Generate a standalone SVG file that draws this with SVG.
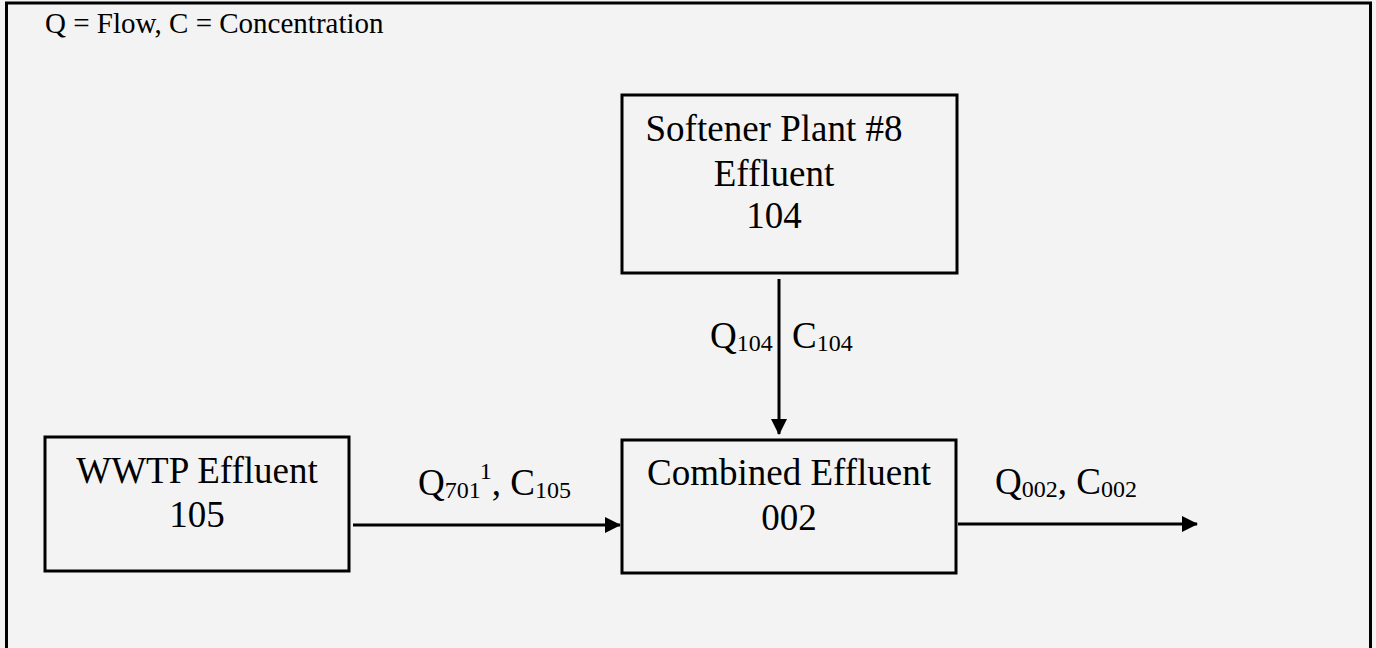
<svg xmlns="http://www.w3.org/2000/svg" width="1376" height="648" viewBox="0 0 1376 648">
<style>
.t{font-family:"Liberation Serif","Times New Roman",serif;fill:#000;font-size:37px}
.s{font-size:24px}
.box{fill:none;stroke:#000;stroke-width:3}
.ln{stroke:#000;stroke-width:3;fill:none}
</style>
<defs>
<marker id="ah" markerUnits="userSpaceOnUse" markerWidth="16" markerHeight="16" refX="15" refY="8" orient="auto">
<path d="M0,0 L16,8 L0,16 Z" fill="#000"/>
</marker>
</defs>
<rect x="0" y="0" width="1376" height="648" fill="#f3f3f3"/>
<rect x="6.5" y="3" width="1364" height="700" fill="none" stroke="#000" stroke-width="3"/>
<text class="t" x="45" y="33" style="font-size:29px">Q = Flow, C = Concentration</text>
<g id="softener">
<rect class="box" x="622" y="95" width="335" height="178"/>
<text class="t" x="774" y="141" text-anchor="middle">Softener Plant #8</text>
<text class="t" x="774" y="186" text-anchor="middle">Effluent</text>
<text class="t" x="774" y="228" text-anchor="middle">104</text>
</g>
<g id="wwtp">
<rect class="box" x="45" y="437" width="304" height="134"/>
<text class="t" x="197" y="483" text-anchor="middle">WWTP Effluent</text>
<text class="t" x="197" y="527" text-anchor="middle">105</text>
</g>
<g id="combined">
<rect class="box" x="622" y="440" width="334" height="133"/>
<text class="t" x="789" y="485" text-anchor="middle">Combined Effluent</text>
<text class="t" x="789" y="530" text-anchor="middle">002</text>
</g>
<g id="connectors">
<line class="ln" x1="779" y1="279" x2="779" y2="434" marker-end="url(#ah)"/>
<line class="ln" x1="353" y1="525" x2="620" y2="525" marker-end="url(#ah)"/>
<line class="ln" x1="958" y1="524" x2="1197" y2="524" marker-end="url(#ah)"/>
<text class="t" x="710" y="348">Q<tspan class="s" dy="3">104</tspan></text>
<text class="t" x="792" y="348">C<tspan class="s" dy="3">104</tspan></text>
<text class="t" x="418" y="495">Q<tspan class="s" dy="3">701</tspan><tspan class="s" dy="-19">1</tspan><tspan dy="16">, C</tspan><tspan class="s" dy="3">105</tspan></text>
<text class="t" x="995" y="494">Q<tspan class="s" dy="3">002</tspan><tspan dy="-3">, C</tspan><tspan class="s" dy="3">002</tspan></text>
</g>
</svg>
